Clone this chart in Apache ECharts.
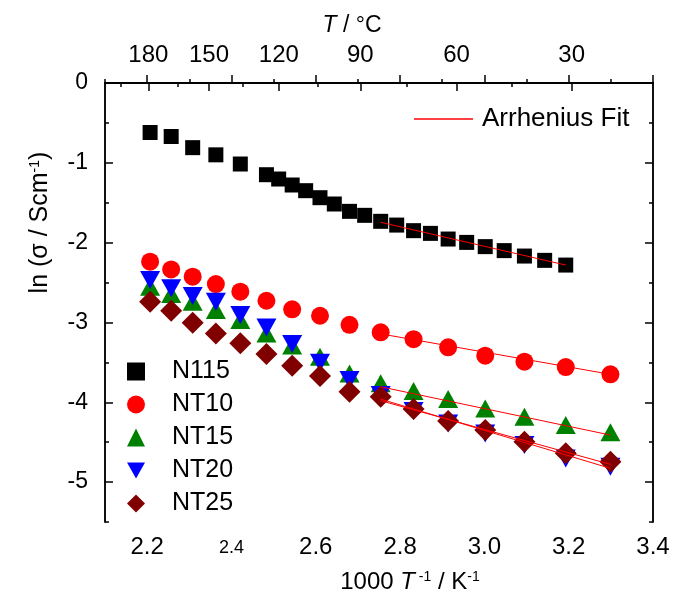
<!DOCTYPE html>
<html>
<head>
<meta charset="utf-8">
<script src="https://cdn.jsdelivr.net/npm/echarts@6/dist/echarts.min.js"></script>
<style>
  html, body { margin: 0; padding: 0; background: #fff; }
  #chart { width: 673px; height: 602px; }
</style>
</head>
<body>
<div id="chart"></div>
<script>
// 1000/T (K^-1) values of the measuring points
var xN115 = [2.207, 2.257, 2.308, 2.363, 2.421, 2.483, 2.512, 2.544, 2.576, 2.610, 2.644, 2.680,
             2.716, 2.754, 2.792, 2.832, 2.872, 2.914, 2.958, 3.002, 3.047, 3.095, 3.143, 3.193];
var yN115 = [-0.62, -0.67, -0.81, -0.90, -1.015, -1.149, -1.203, -1.278, -1.349, -1.437, -1.516, -1.608,
             -1.658, -1.733, -1.78, -1.85, -1.884, -1.955, -1.997, -2.05, -2.10, -2.168, -2.222, -2.281];

var xNT = [2.207, 2.257, 2.308, 2.363, 2.421, 2.483, 2.544, 2.610, 2.680, 2.754, 2.832, 2.914, 3.002, 3.095, 3.193, 3.299];
var yNT10 = [-2.239, -2.335, -2.427, -2.519, -2.615, -2.728, -2.836, -2.916, -3.029, -3.124, -3.21, -3.312, -3.417, -3.492, -3.559, -3.65];
var yNT15 = [-2.552, -2.644, -2.74, -2.845, -2.97, -3.137, -3.29, -3.43, -3.638, -3.763, -3.86, -3.96, -4.077, -4.182, -4.286, -4.377];
var yNT20 = [-2.469, -2.573, -2.669, -2.74, -2.907, -3.062, -3.27, -3.505, -3.722, -3.91, -4.11, -4.265, -4.39, -4.536, -4.703, -4.808];
var yNT25 = [-2.74, -2.853, -3.004, -3.137, -3.262, -3.396, -3.542, -3.672, -3.868, -3.93, -4.085, -4.236, -4.348, -4.495, -4.64, -4.746];

// Arrhenius fits (start / end points)
var fitN115 = [[2.754, -1.745], [3.193, -2.281]];
var fitNT10 = [[2.754, -3.143], [3.299, -3.65]];
var fitNT15 = [[2.754, -3.806], [3.299, -4.411]];
var fitNT20 = [[2.754, -3.96], [3.299, -4.828]];
var fitNT25 = [[2.754, -3.98], [3.299, -4.778]];

// tick labels
var xMajor = [2.2, 2.4, 2.6, 2.8, 3.0, 3.2, 3.4];
var yMajor = [0, -1, -2, -3, -4, -5];
var tMajor = [180, 150, 120, 90, 60, 30];
var tMinor = [195, 165, 135, 105, 75, 45];

function zip(xs, ys) {
  return xs.map(function (x, i) { return [x, ys[i]]; });
}
function inv(t) { return 1000 / (t + 273.15); }

var FONT = '"Liberation Sans", Arial, sans-serif';
var lineAxis = { show: true, lineStyle: { color: '#000', width: 1.5 } };
var fitStyle = { color: '#ff0000', width: 1 };

var chart = echarts.init(document.getElementById('chart'));
chart.setOption({
  backgroundColor: '#fff',
  animation: false,
  textStyle: { fontFamily: FONT, color: '#000' },
  grid: { left: 105, right: 20, top: 83, bottom: 80 },
  legend: [
    {
      data: [
        { name: 'N115', icon: 'rect' },
        { name: 'NT10', icon: 'circle' },
        { name: 'NT15', icon: 'triangle' },
        { name: 'NT20', icon: 'path://M0,0 L20,0 L10,18 Z' },
        { name: 'NT25', icon: 'diamond' }
      ],
      orient: 'vertical',
      left: 122, top: 354,
      itemWidth: 18, itemHeight: 18, itemGap: 8,
      textStyle: { fontSize: 25, fontFamily: FONT, color: '#000', padding: [0, 0, 0, 22] }
    },
    {
      data: [{ name: 'Arrhenius Fit', icon: 'path://M0,0 L59,0 L59,1.5 L0,1.5 Z', itemStyle: { color: '#ff0000' } }],
      left: 409, top: 101,
      itemWidth: 59, itemHeight: 1.5,
      textStyle: { fontSize: 26, fontFamily: FONT, color: '#000', padding: [0, 0, 0, 4] }
    }
  ],
  xAxis: [
    { // bottom, minor ticks
      type: 'value', position: 'bottom', min: 2.1, max: 3.4, interval: 0.1,
      axisLine: lineAxis,
      axisTick: { inside: true, length: 4, lineStyle: { width: 1.5 } },
      axisLabel: { show: false }, splitLine: { show: false }
    },
    { // bottom, major ticks and labels
      type: 'value', position: 'bottom', min: 2.1, max: 3.4,
      axisLine: lineAxis,
      axisTick: { inside: true, length: 8, customValues: xMajor, lineStyle: { width: 1.5 } },
      axisLabel: {
        customValues: xMajor, margin: 12, fontSize: 24, lineHeight: 26, color: '#000', fontFamily: FONT,
        formatter: function (v) {
          var s = v.toFixed(1);
          return Math.abs(v - 2.4) < 1e-6 ? '{s|' + s + '}' : s;
        },
        rich: { s: { fontSize: 18, lineHeight: 28, fontFamily: FONT, color: '#000' } }
      },
      splitLine: { show: false },
      name: '1000 {i|T}{sup| -1} / K{sup|-1}',
      nameLocation: 'middle', nameGap: 48,
      nameTextStyle: {
        fontSize: 24, fontFamily: FONT, color: '#000', padding: [0, 0, 0, 62],
        rich: {
          i: { fontSize: 24, fontStyle: 'italic', fontFamily: FONT, color: '#000' },
          sup: { fontSize: 14, fontFamily: FONT, color: '#000', verticalAlign: 'top', lineHeight: 24 }
        }
      }
    },
    { // top, temperature ticks
      type: 'value', position: 'top', min: 2.0951, max: 3.5084,
      axisLine: lineAxis,
      axisTick: { inside: true, length: 8, customValues: tMajor.map(inv), lineStyle: { width: 1.5 } },
      axisLabel: {
        customValues: tMajor.map(inv), margin: 16, fontSize: 24, color: '#000', fontFamily: FONT,
        formatter: function (v) { return String(Math.round(1000 / v - 273.15)); }
      },
      splitLine: { show: false },
      name: '{i|T} / °C',
      nameLocation: 'middle', nameGap: 46,
      nameTextStyle: {
        fontSize: 23, fontFamily: FONT, color: '#000', padding: [0, 54, 0, 0],
        rich: { i: { fontSize: 23, fontStyle: 'italic', fontFamily: FONT, color: '#000' } }
      }
    },
    { // top, minor temperature ticks
      type: 'value', position: 'top', min: 2.0951, max: 3.5084,
      axisLine: lineAxis,
      axisTick: { inside: true, length: 4, customValues: tMinor.map(inv), lineStyle: { width: 1.5 } },
      axisLabel: { show: false }, splitLine: { show: false }
    }
  ],
  yAxis: [
    { // left, major
      type: 'value', position: 'left', min: -5.5, max: 0,
      axisLine: lineAxis,
      axisTick: { inside: true, length: 8, customValues: yMajor, lineStyle: { width: 1.5 } },
      axisLabel: { customValues: yMajor, margin: 17, fontSize: 23, color: '#000', fontFamily: FONT },
      splitLine: { show: false },
      name: 'ln (σ / Scm{sup|-1})',
      nameLocation: 'middle', nameGap: 52, nameRotate: 90,
      nameTextStyle: {
        fontSize: 25, fontFamily: FONT, color: '#000', padding: [0, 0, 0, 160],
        rich: { sup: { fontSize: 14, fontFamily: FONT, color: '#000', verticalAlign: 'top', lineHeight: 25 } }
      }
    },
    { // left, minor
      type: 'value', position: 'left', min: -5.5, max: 0, interval: 0.5,
      axisLine: lineAxis,
      axisTick: { inside: true, length: 4, lineStyle: { width: 1.5 } },
      axisLabel: { show: false }, splitLine: { show: false }
    },
    { // right, major
      type: 'value', position: 'right', min: -5.5, max: 0,
      axisLine: lineAxis,
      axisTick: { inside: true, length: 8, customValues: yMajor, lineStyle: { width: 1.5 } },
      axisLabel: { show: false }, splitLine: { show: false }
    },
    { // right, minor
      type: 'value', position: 'right', min: -5.5, max: 0, interval: 0.5,
      axisLine: lineAxis,
      axisTick: { inside: true, length: 4, lineStyle: { width: 1.5 } },
      axisLabel: { show: false }, splitLine: { show: false }
    }
  ],
  series: [
    { name: 'N115', type: 'scatter', xAxisIndex: 1, yAxisIndex: 0, symbol: 'rect', symbolSize: 15,
      itemStyle: { color: '#000000', opacity: 1 }, data: zip(xN115, yN115), z: 2 },
    { name: 'NT10', type: 'scatter', xAxisIndex: 1, yAxisIndex: 0, symbol: 'circle', symbolSize: 18,
      itemStyle: { color: '#ff0000', opacity: 1 }, data: zip(xNT, yNT10), z: 3 },
    { name: 'NT15', type: 'scatter', xAxisIndex: 1, yAxisIndex: 0, symbol: 'triangle', symbolSize: [20, 18],
      itemStyle: { color: '#008000', opacity: 1 }, data: zip(xNT, yNT15), z: 4 },
    { name: 'NT20', type: 'scatter', xAxisIndex: 1, yAxisIndex: 0, symbol: 'triangle', symbolRotate: 180, symbolSize: [20, 18],
      itemStyle: { color: '#0000ff', opacity: 1 }, data: zip(xNT, yNT20), z: 5 },
    { name: 'NT25', type: 'scatter', xAxisIndex: 1, yAxisIndex: 0, symbol: 'diamond', symbolSize: 22,
      itemStyle: { color: '#800000', opacity: 1 }, data: zip(xNT, yNT25), z: 6 },
    { name: 'Arrhenius Fit', type: 'line', xAxisIndex: 1, yAxisIndex: 0, symbol: 'none', showSymbol: false,
      data: fitN115, lineStyle: fitStyle, itemStyle: { color: '#ff0000' }, z: 10 },
    { name: 'Arrhenius Fit', type: 'line', xAxisIndex: 1, yAxisIndex: 0, symbol: 'none', showSymbol: false,
      data: fitNT10, lineStyle: fitStyle, itemStyle: { color: '#ff0000' }, z: 10 },
    { name: 'Arrhenius Fit', type: 'line', xAxisIndex: 1, yAxisIndex: 0, symbol: 'none', showSymbol: false,
      data: fitNT15, lineStyle: fitStyle, itemStyle: { color: '#ff0000' }, z: 10 },
    { name: 'Arrhenius Fit', type: 'line', xAxisIndex: 1, yAxisIndex: 0, symbol: 'none', showSymbol: false,
      data: fitNT20, lineStyle: fitStyle, itemStyle: { color: '#ff0000' }, z: 10 },
    { name: 'Arrhenius Fit', type: 'line', xAxisIndex: 1, yAxisIndex: 0, symbol: 'none', showSymbol: false,
      data: fitNT25, lineStyle: fitStyle, itemStyle: { color: '#ff0000' }, z: 10 }
  ]
});
</script>
</body>
</html>
